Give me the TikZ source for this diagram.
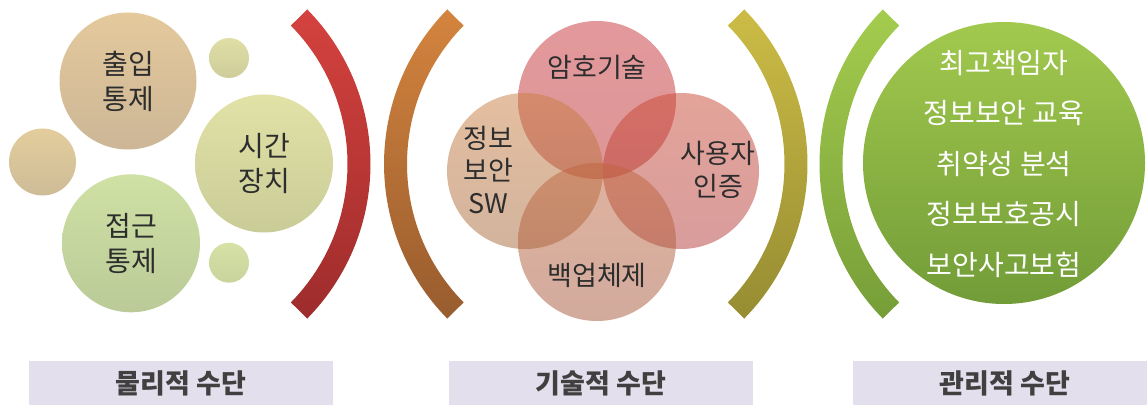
\documentclass[tikz,border=0pt]{standalone}
\usepackage{fontspec}
\setmainfont{Noto Sans CJK KR}
\definecolor{txtgray}{RGB}{45,45,45}
\definecolor{taggray}{RGB}{64,64,64}
\definecolor{tagfill}{RGB}{228,223,236}
% left group
\definecolor{aT}{RGB}{228,201,156}\definecolor{aB}{RGB}{204,182,150}
\definecolor{bT}{RGB}{227,205,156}\definecolor{bB}{RGB}{206,188,152}
\definecolor{sT}{RGB}{224,222,166}\definecolor{sB}{RGB}{206,204,154}
\definecolor{cT}{RGB}{225,226,166}\definecolor{cB}{RGB}{202,204,152}
\definecolor{dT}{RGB}{207,225,164}\definecolor{dB}{RGB}{186,202,152}
\definecolor{eT}{RGB}{214,225,166}\definecolor{eB}{RGB}{200,212,156}
% venn (raw colours, drawn at half opacity)
\definecolor{vaT}{RGB}{200,52,56}\definecolor{vaB}{RGB}{186,44,46}
\definecolor{vbT}{RGB}{202,126,66}\definecolor{vbB}{RGB}{165,104,58}
\definecolor{vcT}{RGB}{200,72,52}\definecolor{vcB}{RGB}{178,58,56}
\definecolor{vdT}{RGB}{192,102,62}\definecolor{vdB}{RGB}{165,86,58}
% green
\definecolor{gT}{RGB}{162,201,78}\definecolor{gB}{RGB}{114,156,56}
% arcs
\definecolor{rT}{RGB}{212,66,62}\definecolor{rB}{RGB}{158,44,44}
\definecolor{oT}{RGB}{212,132,62}\definecolor{oB}{RGB}{152,92,46}
\definecolor{yT}{RGB}{204,188,70}\definecolor{yB}{RGB}{150,140,50}
\definecolor{grT}{RGB}{164,204,78}\definecolor{grB}{RGB}{118,158,56}
\newcommand\myband[6]{%
  \shade[top color=#5, bottom color=#6]
    ([shift={(#1,#2)}]#3:220.5pt) arc[start angle=#3,end angle=#4,radius=220.5pt]
    -- ([shift={(#1,#2)}]#4:197.5pt) arc[start angle=#4,end angle=#3,radius=197.5pt]
    -- cycle;}
\begin{document}
\begin{tikzpicture}[x=1pt,y=1pt,
  ball/.style={circle, inner sep=0pt, draw=none},
  lbl/.style={font=\fontsize{28}{35}\selectfont, text=txtgray, align=center},
  venn/.style={circle, inner sep=0pt, draw=none, minimum size=158pt, fill opacity=0.5},
  vtxt/.style={font=\fontsize{27}{32.5}\selectfont, text=txtgray, align=center},
  gtxt/.style={font=\fontsize{28}{50.5}\selectfont, text=white, align=center},
  tag/.style={fill=tagfill, minimum width=304pt, minimum height=44pt, inner sep=0pt,
              font=\fontsize{27}{30}\selectfont\bfseries, text=taggray}]
\useasboundingbox (0,0) rectangle (1147,405);
\clip (0,0) rectangle (1147,405);
% ---- physical
\node[ball, minimum size=137pt, top color=aT, bottom color=aB, lbl] (c1) at (128,324) {출입\\통제};
\node[ball, minimum size=40pt, top color=sT, bottom color=sB] (s1) at (229,347) {};
\node[ball, minimum size=67pt, top color=bT, bottom color=bB] (s2) at (42.5,243) {};
\node[ball, minimum size=138pt, top color=cT, bottom color=cB, lbl] (c2) at (264,241.5) {시간\\장치};
\node[ball, minimum size=138pt, top color=dT, bottom color=dB, lbl] (c3) at (131,161.7) {접근\\통제};
\node[ball, minimum size=40pt, top color=eT, bottom color=eB] (s3) at (229,142.3) {};
% ---- arcs
\myband{150}{241}{44.5}{-44.5}{rT}{rB}
\myband{604.5}{241}{135.5}{224.5}{oT}{oB}
\myband{587}{241}{44.5}{-44.5}{yT}{yB}
\myband{1040}{241}{135.5}{224.5}{grT}{grB}
% ---- technical (venn)
\node[venn, top color=vaT, bottom color=vaB] (v1) at (597,305) {};
\node[venn, minimum size=156pt, top color=vbT, bottom color=vbB] (v2) at (525,234) {};
\node[venn, minimum size=156pt, top color=vcT, bottom color=vcB] (v3) at (681,234) {};
\node[venn, top color=vdT, bottom color=vdB] (v4) at (597,163) {};
\node[vtxt] (t1) at (597,338) {암호기술};
\node[vtxt] (t2) at (488,235) {정보\\보안\\SW};
\node[vtxt] (t3) at (718,235) {사용자\\인증};
\node[vtxt] (t4) at (597,130) {백업체제};
% ---- managerial
\node[ball, minimum size=282pt, top color=gT, bottom color=gB] (g) at (1004,242) {};
\node[gtxt] (gt) at (1004,241) {최고책임자\\정보보안 교육\\취약성 분석\\정보보호공시\\보안사고보험};
% ---- tags
\node[tag] (k1) at (181,22) {물리적 수단};
\node[tag] (k2) at (601,22) {기술적 수단};
\node[tag] (k3) at (1005,22) {관리적 수단};
\end{tikzpicture}
\end{document}
